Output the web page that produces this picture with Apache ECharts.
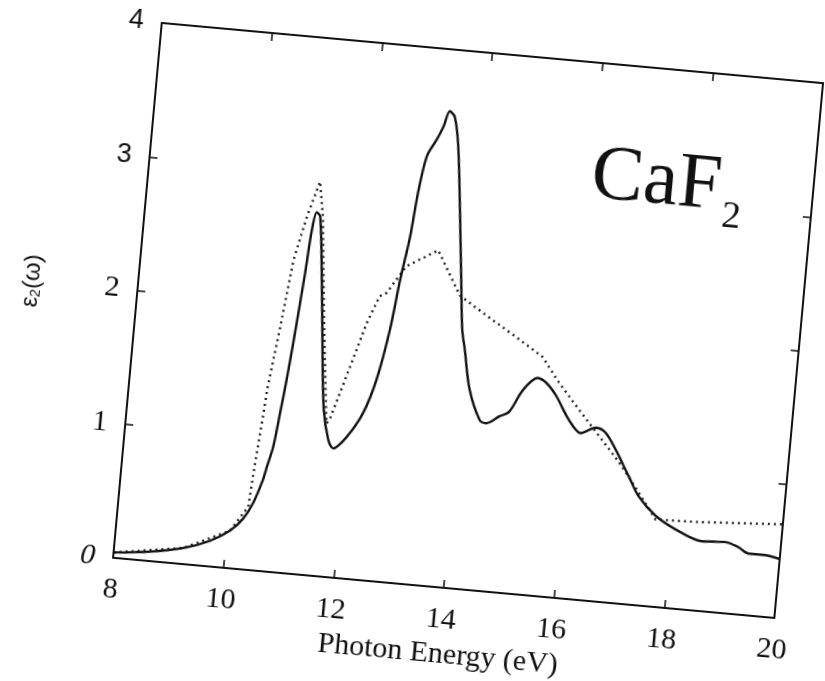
<!DOCTYPE html>
<html>
<head>
<meta charset="utf-8">
<title>CaF2 eps2</title>
<script src="https://cdn.jsdelivr.net/npm/echarts@6/dist/echarts.min.js"></script>
<style>
    html, body { margin: 0; padding: 0; background: #fff; overflow: hidden; }
    /* the scanned figure sits a few degrees clockwise */
    #chart { position: absolute; left: 0; top: 0; width: 825px; height: 681px; transform: rotate(5.2deg); transform-origin: 50% 50%; }
</style>
</head>
<body>
<div id="chart"></div>
<script>
// 横轴刻度 / 纵轴刻度
const xTicks = [8, 10, 12, 14, 16, 18, 20];
const yTicks = [0, 1, 2, 3, 4];

// 实线 (measured)
const solidX = [8.00, 8.65, 9.25, 9.71, 10.06, 10.28, 10.43, 10.57, 10.62, 10.70, 10.77, 10.83, 10.89, 10.99, 11.04, 11.10,
    11.17, 11.31, 11.43, 11.55, 11.68, 11.78, 12.00, 12.26, 12.45, 12.61, 12.71, 12.82, 12.89, 12.99, 13.14, 13.24,
    13.33, 13.43, 13.54, 13.68, 13.81, 13.91, 13.99, 14.14, 14.37, 14.49, 14.72, 14.89, 15.10, 15.35, 15.51, 15.71,
    15.98, 16.21, 16.48, 16.66, 16.87, 17.15, 17.36, 17.69, 18.08, 18.57, 18.99, 19.24, 19.43, 19.73, 20.00];
const solidY = [0.04, 0.07, 0.12, 0.19, 0.28, 0.38, 0.50, 0.68, 0.78, 0.93, 1.19, 1.43, 1.71, 2.24, 2.56, 2.70,
    2.67, 2.17, 1.68, 1.24, 1.02, 0.96, 1.05, 1.24, 1.50, 1.88, 2.25, 2.58, 2.91, 3.19, 3.32, 3.42,
    3.54, 3.50, 3.28, 2.79, 2.30, 1.93, 1.78, 1.49, 1.27, 1.25, 1.31, 1.35, 1.52, 1.62, 1.59, 1.50,
    1.33, 1.24, 1.29, 1.26, 1.14, 0.95, 0.81, 0.68, 0.59, 0.52, 0.53, 0.50, 0.46, 0.46, 0.44];

// 虚线 (calculated)
const dottedX = [8.00, 9.25, 10.06, 10.35, 10.40, 10.47, 10.50, 10.63, 10.76, 10.93, 11.11, 11.22, 11.40, 11.62, 11.67,
    11.90, 12.18, 12.37, 12.49, 12.80, 13.35, 13.81, 14.32, 14.89, 15.40, 15.74, 16.15, 16.55, 16.95, 17.22,
    17.70, 18.48, 20.00];
const dottedY = [0.04, 0.12, 0.28, 0.47, 0.79, 1.17, 1.36, 1.82, 2.33, 2.66, 2.93, 2.67, 1.93, 1.14, 1.17,
    1.50, 1.91, 2.12, 2.15, 2.36, 2.50, 2.18, 2.05, 1.91, 1.78, 1.60, 1.41, 1.23, 1.05, 0.91,
    0.65, 0.66, 0.70];

const serif = "'Liberation Serif', 'DejaVu Serif', serif";
const sans = "'Liberation Sans', 'DejaVu Sans', sans-serif";
const ink = "#111";

const toPairs = (xs, ys) => xs.map((x, i) => [x, ys[i]]);

// 坐标轴公共样式 (onZero 关掉, 否则顶轴会被挪到 y=0)
const axisLine = { show: true, onZero: false, lineStyle: { color: ink, width: 2 } };
const axisTick = { show: true, inside: true, length: 8, lineStyle: { color: ink, width: 1.5 } };

const chart = echarts.init(document.getElementById("chart"), null, { renderer: "canvas" });

const option = {
    animation: false,
    backgroundColor: "#fff",
    grid: { left: 134, top: 47, width: 664, height: 537 },
    xAxis: [
        {
            type: "value",
            min: xTicks[0],
            max: xTicks[xTicks.length - 1],
            interval: 2,
            position: "bottom",
            axisLine: axisLine,
            axisTick: axisTick,
            splitLine: { show: false },
            axisLabel: { color: ink, fontFamily: serif, fontSize: 30, margin: 17 },
            name: "Photon Energy (eV)",
            nameLocation: "middle",
            nameGap: 42,
            nameTextStyle: { color: ink, fontFamily: serif, fontSize: 30 },
        },
        {
            type: "value",
            min: xTicks[0],
            max: xTicks[xTicks.length - 1],
            interval: 2,
            position: "top",
            axisLine: axisLine,
            axisTick: axisTick,
            splitLine: { show: false },
            axisLabel: { show: false },
        },
    ],
    yAxis: [
        {
            type: "value",
            min: yTicks[0],
            max: yTicks[yTicks.length - 1],
            interval: 1,
            position: "left",
            axisLine: axisLine,
            axisTick: axisTick,
            splitLine: { show: false },
            axisLabel: {
                margin: 18,
                // 扫描件里 3、4 是无衬线体，0 是斜体
                formatter: function (v) {
                    if (v === 0) return "{i|0}";
                    if (v >= 3) return "{s|" + v + "}";
                    return "{r|" + v + "}";
                },
                rich: {
                    i: { color: ink, fontFamily: serif, fontStyle: "italic", fontSize: 30 },
                    s: { color: ink, fontFamily: sans, fontSize: 27 },
                    r: { color: ink, fontFamily: serif, fontSize: 30 },
                },
            },
            name: "{e|ε}{sub|2}{e|(ω)}",
            nameLocation: "middle",
            nameGap: 94,
            nameTextStyle: {
                rich: {
                    e: { color: ink, fontFamily: sans, fontSize: 24 },
                    sub: { color: ink, fontFamily: sans, fontSize: 14, padding: [10, 0, 0, 0] },
                },
            },
        },
        {
            type: "value",
            min: yTicks[0],
            max: yTicks[yTicks.length - 1],
            interval: 1,
            position: "right",
            axisLine: axisLine,
            axisTick: axisTick,
            splitLine: { show: false },
            axisLabel: { show: false },
        },
    ],
    graphic: [
        {
            type: "text",
            left: 576,
            top: 122,
            style: { text: "CaF", font: "78px " + serif, fill: ink },
        },
        {
            type: "text",
            left: 709,
            top: 170,
            style: { text: "2", font: "38px " + serif, fill: ink },
        },
    ],
    series: [
        {
            name: "dotted",
            type: "line",
            data: toPairs(dottedX, dottedY),
            showSymbol: false,
            lineStyle: { color: "#222", width: 2.4, type: [2, 4] },
            z: 2,
        },
        {
            name: "solid",
            type: "line",
            data: toPairs(solidX, solidY),
            smooth: 0.3,
            showSymbol: false,
            lineStyle: { color: "#111", width: 2.4 },
            z: 3,
        },
    ],
};

chart.setOption(option);
</script>
</body>
</html>
